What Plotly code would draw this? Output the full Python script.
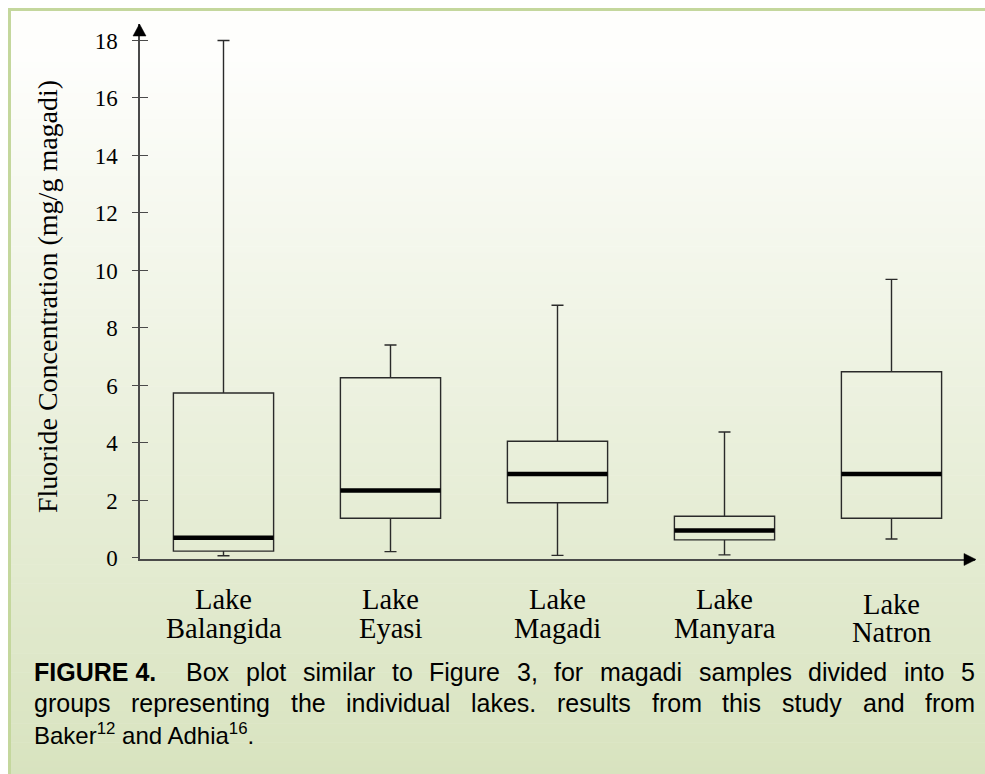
import plotly.graph_objects as go

# Fluoride content of magadi samples, grouped by lake (mg/g magadi)
lakes = ["Balangida", "Eyasi", "Magadi", "Manyara", "Natron"]
lower_whisker = [0.08, 0.22, 0.09, 0.11, 0.66]
q1_vals = [0.24, 1.38, 1.92, 0.63, 1.38]
median_vals = [0.70, 2.35, 2.92, 0.96, 2.92]
q3_vals = [5.74, 6.27, 4.06, 1.45, 6.48]
upper_whisker = [18.0, 7.41, 8.79, 4.38, 9.69]
y_ticks = [0, 2, 4, 6, 8, 10, 12, 14, 16, 18]

W, H = 985, 774
ML, MR, MT, MB = 140, 10, 24, 215
PL, PR, PT, PB = ML, W - MR, MT, H - MB
X_RANGE = [-0.5, 4.5]
Y_RANGE = [-0.035, -0.035 + (PB - PT) / 28.75]
BOX_W = 0.6

SERIF = "Liberation Serif, Times New Roman, serif"
SANS = "Liberation Sans, Arial, Helvetica, sans-serif"
CAP_SIZE = 25


def px(p):
    return (p - PL) / (PR - PL)


def py(p):
    return (PB - p) / (PB - PT)


# Advance widths (1/1000 em) of the sans face, used to justify caption lines
_REG = {
    " ": 278, ".": 278, ",": 278, "0": 556, "1": 556, "2": 556, "3": 556, "4": 556,
    "5": 556, "6": 556, "7": 556, "8": 556, "9": 556,
    "a": 556, "b": 556, "c": 500, "d": 556, "e": 556, "f": 278, "g": 556, "h": 556,
    "i": 222, "j": 222, "k": 500, "l": 222, "m": 833, "n": 556, "o": 556, "p": 556,
    "q": 556, "r": 333, "s": 500, "t": 278, "u": 556, "v": 500, "w": 722, "x": 500,
    "y": 500, "z": 500, "A": 667, "B": 667, "C": 722, "D": 722, "E": 667, "F": 611,
    "G": 778, "H": 722, "I": 278, "J": 500, "K": 667, "L": 556, "M": 833, "N": 722,
    "O": 778, "P": 667, "Q": 778, "R": 722, "S": 667, "T": 611, "U": 722, "V": 667,
    "W": 944, "X": 667, "Y": 667, "Z": 611,
}
_BOLD = {"F": 611, "I": 278, "G": 778, "U": 722, "R": 722, "E": 667, " ": 278,
         "4": 556, ".": 278}


def text_width(s, size, bold=False):
    table = _BOLD if bold else _REG
    return sum(table.get(ch, 556) for ch in s) * size / 1000.0


xs = list(range(len(lakes)))

fig = go.Figure()

fig.add_trace(go.Box(
    x=xs,
    q1=q1_vals,
    median=median_vals,
    q3=q3_vals,
    lowerfence=lower_whisker,
    upperfence=upper_whisker,
    width=BOX_W,
    whiskerwidth=0.12,
    boxpoints=False,
    fillcolor="rgba(0,0,0,0)",
    line=dict(color="#2a2a2a", width=1.4),
    hoverinfo="skip",
    showlegend=False,
))

# Heavy median bars drawn over each box
mx, my = [], []
for i, m in zip(xs, median_vals):
    mx += [i - BOX_W / 2, i + BOX_W / 2, None]
    my += [m, m, None]
fig.add_trace(go.Scatter(
    x=mx, y=my, mode="lines",
    line=dict(color="black", width=4.5),
    hoverinfo="skip", showlegend=False,
))

# Empty trace so the inner tick axis is rendered
fig.add_trace(go.Scatter(x=[None], y=[None], yaxis="y2", showlegend=False, hoverinfo="skip"))

shapes = []

# Soft vertical gradient panel
top_c = (254, 254, 252)
bot_c = (216, 227, 191)
y0, y1 = 11, H
n = 120
for k in range(n):
    a = y0 + (y1 - y0) * k / n
    b = y0 + (y1 - y0) * (k + 1) / n
    t = max(0.0, ((a + b) / 2 - 55) / (H - 55))
    c = tuple(round(top_c[j] + (bot_c[j] - top_c[j]) * t) for j in range(3))
    shapes.append(dict(
        type="rect", xref="paper", yref="paper", layer="below",
        x0=px(11), x1=px(W), y0=py(b + 0.6), y1=py(a),
        fillcolor="rgb(%d,%d,%d)" % c, line=dict(width=0),
    ))

# Panel border (top and left)
border = "#c4d79d"
shapes.append(dict(type="line", xref="paper", yref="paper", layer="below",
                   x0=px(8), x1=px(W), y0=py(9.5), y1=py(9.5),
                   line=dict(color=border, width=3)))
shapes.append(dict(type="line", xref="paper", yref="paper", layer="below",
                   x0=px(9.5), x1=px(9.5), y0=py(8), y1=py(H),
                   line=dict(color=border, width=3)))

# Axis arrowheads
ax_x = PL - 0.5
shapes.append(dict(type="path", xref="paper", yref="paper",
                   path="M %f,%f L %f,%f L %f,%f Z" % (
                       px(ax_x), py(24), px(ax_x - 6.5), py(36), px(ax_x + 6.5), py(36)),
                   fillcolor="black", line=dict(color="black", width=0.5)))
ax_y = PB + 0.5
shapes.append(dict(type="path", xref="paper", yref="paper",
                   path="M %f,%f L %f,%f L %f,%f Z" % (
                       px(976), py(ax_y), px(964), py(ax_y - 6), px(964), py(ax_y + 6)),
                   fillcolor="black", line=dict(color="black", width=0.5)))

annotations = []

# Two-line category labels under the axis
for i, name in zip(xs, lakes):
    dy = 5 if name == "Natron" else 0
    for text, yy in (("Lake", 599), (name, 628)):
        annotations.append(dict(x=i, y=py(yy + dy), xref="x", yref="paper",
                                text=text, showarrow=False,
                                font=dict(family=SERIF, size=28.5, color="black"),
                                xanchor="center", yanchor="middle"))

# Y-axis title
annotations.append(dict(x=px(47), y=py(297), xref="paper", yref="paper",
                        text="Fluoride Concentration (mg/g magadi)", showarrow=False,
                        textangle=-90, font=dict(family=SERIF, size=28, color="black"),
                        xanchor="center", yanchor="middle"))

# Figure caption: first two lines justified word by word, last line left-aligned.
# Each word carries the relative width of the gap that precedes it.
CAP_LEFT, CAP_RIGHT = 32, 973
line1 = "Box plot similar to Figure 3, for magadi samples divided into 5".split()
line2 = "groups representing the individual lakes. results from this study and from".split()
justified = [
    [("FIGURE 4.", True, 0), (line1[0], False, 1.8)] + [(w, False, 1) for w in line1[1:]],
    [(line2[0], False, 0)] + [(w, False, 1) for w in line2[1:]],
]
for k, words in enumerate(justified):
    widths = [text_width(w, CAP_SIZE, b) for w, b, _ in words]
    weights = [g for _, _, g in words[1:]]
    gap = (CAP_RIGHT - CAP_LEFT - sum(widths)) / sum(weights)
    x = CAP_LEFT
    for idx, ((w, bold, g), wd) in enumerate(zip(words, widths)):
        if idx > 0:
            x += gap * g
        annotations.append(dict(
            x=px(x), y=py(672 + 31 * k), xref="paper", yref="paper",
            text="<b>%s</b>" % w if bold else w, showarrow=False,
            font=dict(family=SANS, size=CAP_SIZE, color="black"),
            xanchor="left", yanchor="middle", align="left"))
        x += wd

annotations.append(dict(
    x=px(CAP_LEFT), y=py(672 + 31 * 2), xref="paper", yref="paper",
    text="Baker<sup>12</sup> and Adhia<sup>16</sup>.", showarrow=False,
    font=dict(family=SANS, size=24, color="black"),
    xanchor="left", yanchor="middle", align="left"))

fig.update_layout(
    width=W, height=H,
    margin=dict(l=ML, r=MR, t=MT, b=MB, pad=0),
    paper_bgcolor="white",
    plot_bgcolor="rgba(0,0,0,0)",
    shapes=shapes,
    annotations=annotations,
    xaxis=dict(range=X_RANGE, showline=True, linecolor="#4a4a4a", linewidth=1.5,
               showticklabels=False, ticks="", showgrid=False, zeroline=False,
               fixedrange=True),
    yaxis=dict(range=Y_RANGE, showline=True, linecolor="#4a4a4a", linewidth=1.5,
               tickvals=y_ticks, ticktext=[str(v) for v in y_ticks],
               ticks="outside", ticklen=6, tickwidth=1.3, tickcolor="#4a4a4a",
               ticklabelstandoff=10,
               tickfont=dict(family=SERIF, size=23, color="black"),
               showgrid=False, zeroline=False, fixedrange=True),
    yaxis2=dict(range=Y_RANGE, overlaying="y", side="left", showline=False,
                tickvals=y_ticks[1:], ticks="inside", ticklen=8, tickwidth=1.3,
                tickcolor="#4a4a4a", showticklabels=False, showgrid=False,
                zeroline=False, fixedrange=True),
    showlegend=False,
)

fig.write_html("out.html")
